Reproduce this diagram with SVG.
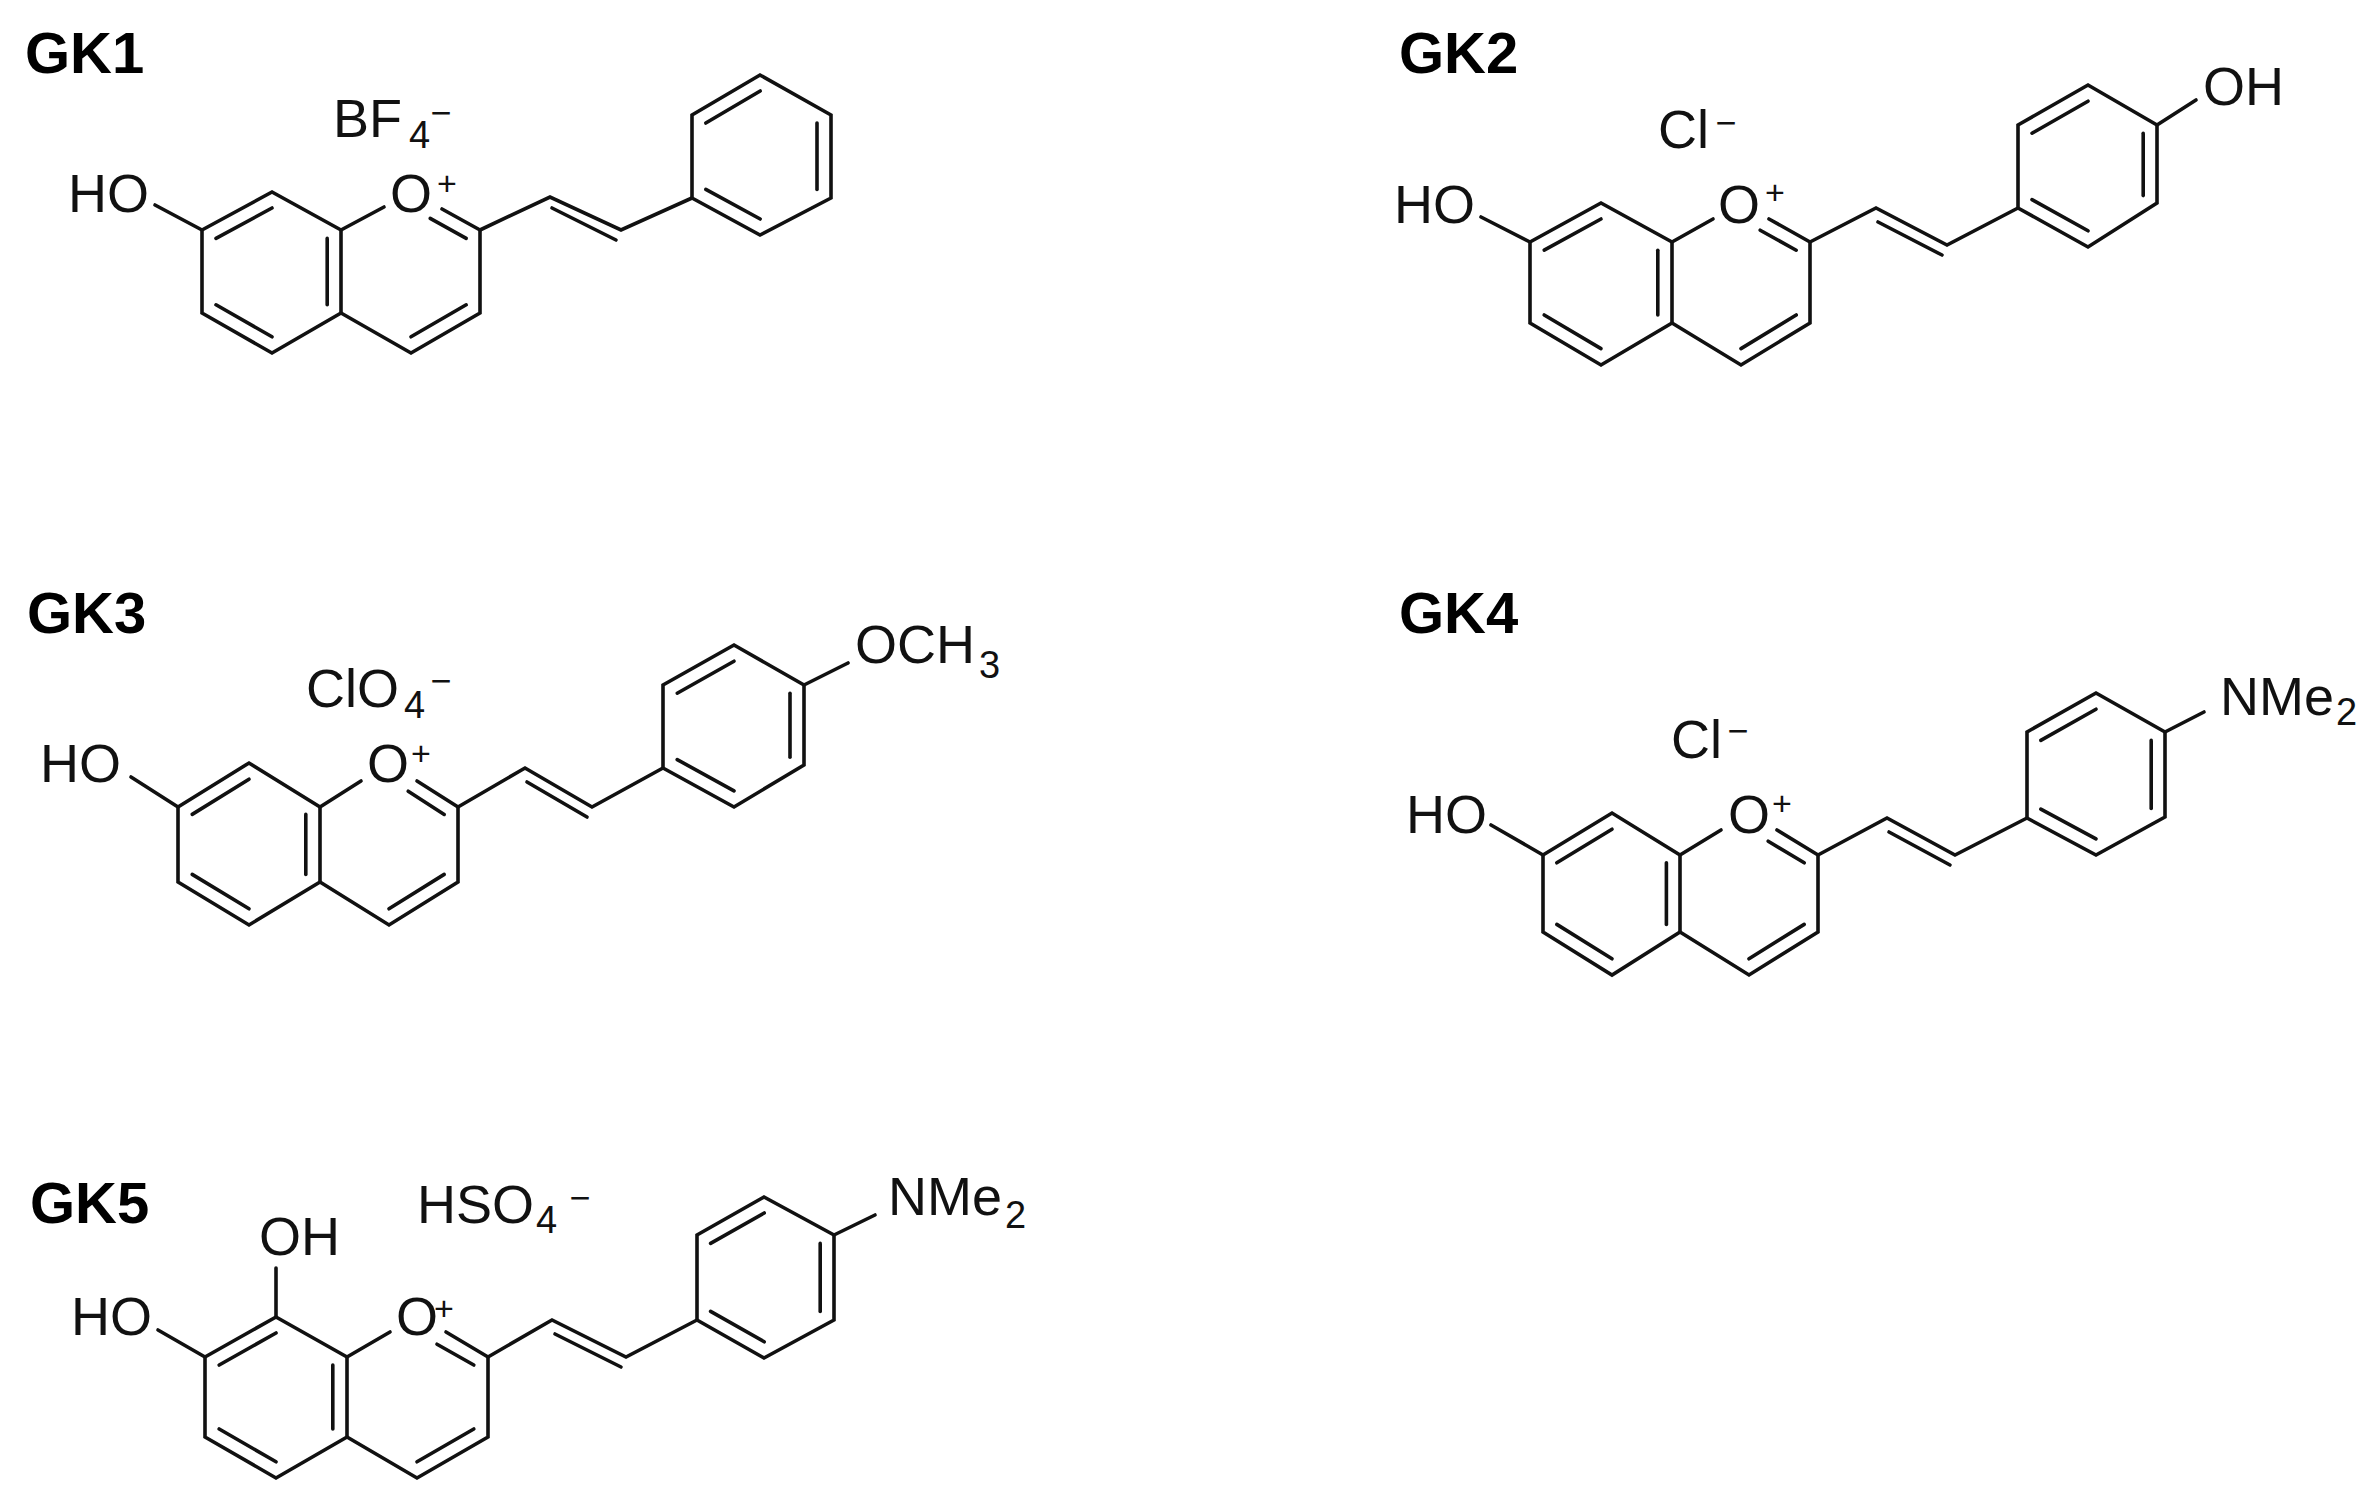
<svg xmlns="http://www.w3.org/2000/svg" width="2371" height="1502" viewBox="0 0 2371 1502">
<style>
.b{fill:none;stroke:#111;stroke-width:3.6;stroke-linejoin:miter;stroke-linecap:round}
.in line{vector-effect:non-scaling-stroke}
.t{font-family:"Liberation Sans",Arial,sans-serif;font-size:54px;fill:#111}
.s{font-family:"Liberation Sans",Arial,sans-serif;font-size:38px;fill:#111}
.c{font-family:"Liberation Sans",Arial,sans-serif;font-size:36px;fill:#111;text-anchor:middle}
.p{font-family:"Liberation Sans",Arial,sans-serif;font-size:34px;fill:#111;text-anchor:middle}
.h{font-family:"Liberation Sans",Arial,sans-serif;font-size:58px;font-weight:bold;fill:#000}
</style>
<rect width="2371" height="1502" fill="#fff"/>

<g id="GK1">
<text class="h" x="25" y="73">GK1</text>
<text class="t" x="333" y="137">BF</text><text class="s" x="409" y="148">4</text><text class="c" x="441" y="125">−</text>
<text class="t" x="68" y="212">HO</text>
<text class="t" x="390" y="212">O</text><text class="p" x="447" y="195">+</text>
<g class="b">
<line x1="155" y1="205" x2="202" y2="230"/>
<polygon points="202,230 272,192 341,230 341,313 272,353 202,313"/>
<line x1="341" y1="230" x2="384" y2="207"/>
<polyline points="442,209 480,230 480,313 411,353 341,313"/>
<polyline points="480,230 550,197 621,230 692,198"/>
<line x1="552" y1="208" x2="616" y2="240"/>
<polygon points="692,198 692,115 760,75 831,115 831,198 760,235"/>
<g class="in" transform="translate(272 272) scale(0.8) translate(-272 -272)"><line x1="202" y1="230" x2="272" y2="192"/><line x1="341" y1="230" x2="341" y2="313"/><line x1="272" y1="353" x2="202" y2="313"/></g>
<g class="in" transform="translate(411 272) scale(0.8) translate(-411 -272)"><line x1="480" y1="313" x2="411" y2="353"/><line x1="435" y1="205" x2="480" y2="230"/></g>
<g class="in" transform="translate(761 155) scale(0.8) translate(-761 -155)"><line x1="692" y1="115" x2="760" y2="75"/><line x1="831" y1="115" x2="831" y2="198"/><line x1="760" y1="235" x2="692" y2="198"/></g>
</g>
</g>

<g id="GK2">
<text class="h" x="1399" y="73">GK2</text>
<text class="t" x="1658" y="148">Cl</text><text class="c" x="1726" y="135">−</text>
<text class="t" x="1394" y="223">HO</text>
<text class="t" x="1718" y="223">O</text><text class="p" x="1775" y="204">+</text>
<text class="t" x="2203" y="105">OH</text>
<g class="b">
<line x1="1481" y1="217" x2="1530" y2="242"/>
<polygon points="1530,242 1601,203 1672,242 1672,323 1601,365 1530,323"/>
<line x1="1672" y1="242" x2="1713" y2="219"/>
<polyline points="1769,219 1810,242 1810,323 1741,365 1672,323"/>
<polyline points="1810,242 1876,208 1947,245 2018,208"/>
<line x1="1878" y1="222" x2="1942" y2="255"/>
<polygon points="2018,208 2018,125 2088,85 2157,125 2157,203 2088,247"/>
<line x1="2157" y1="125" x2="2196" y2="100"/>
<g class="in" transform="translate(1601 283) scale(0.8) translate(-1601 -283)"><line x1="1530" y1="242" x2="1601" y2="203"/><line x1="1672" y1="242" x2="1672" y2="323"/><line x1="1601" y1="365" x2="1530" y2="323"/></g>
<g class="in" transform="translate(1741 283) scale(0.8) translate(-1741 -283)"><line x1="1810" y1="323" x2="1741" y2="365"/><line x1="1765" y1="217" x2="1810" y2="242"/></g>
<g class="in" transform="translate(2088 166) scale(0.8) translate(-2088 -166)"><line x1="2018" y1="125" x2="2088" y2="85"/><line x1="2157" y1="125" x2="2157" y2="203"/><line x1="2088" y1="247" x2="2018" y2="208"/></g>
</g>
</g>

<g id="GK3">
<text class="h" x="27" y="633">GK3</text>
<text class="t" x="306" y="707">ClO</text><text class="s" x="404" y="718">4</text><text class="c" x="441" y="693">−</text>
<text class="t" x="40" y="782">HO</text>
<text class="t" x="367" y="782">O</text><text class="p" x="421" y="765">+</text>
<text class="t" x="855" y="663">OCH</text><text class="s" x="979" y="678">3</text>
<g class="b">
<line x1="131" y1="777" x2="178" y2="807"/>
<polygon points="178,807 249,763 320,807 320,882 249,925 178,882"/>
<line x1="320" y1="807" x2="361" y2="781"/>
<polyline points="417,781 458,807 458,882 389,925 320,882"/>
<polyline points="458,807 525,768 592,807 663,768"/>
<line x1="527" y1="782" x2="587" y2="817"/>
<polygon points="663,768 663,685 734,645 804,685 804,765 734,807"/>
<line x1="804" y1="685" x2="848" y2="663"/>
<g class="in" transform="translate(249 844) scale(0.8) translate(-249 -844)"><line x1="178" y1="807" x2="249" y2="763"/><line x1="320" y1="807" x2="320" y2="882"/><line x1="249" y1="925" x2="178" y2="882"/></g>
<g class="in" transform="translate(389 844) scale(0.8) translate(-389 -844)"><line x1="458" y1="882" x2="389" y2="925"/><line x1="413" y1="778" x2="458" y2="807"/></g>
<g class="in" transform="translate(734 726) scale(0.8) translate(-734 -726)"><line x1="663" y1="685" x2="734" y2="645"/><line x1="804" y1="685" x2="804" y2="765"/><line x1="734" y1="807" x2="663" y2="768"/></g>
</g>
</g>

<g id="GK4">
<text class="h" x="1399" y="633">GK4</text>
<text class="t" x="1671" y="758">Cl</text><text class="c" x="1738" y="743">−</text>
<text class="t" x="1406" y="833">HO</text>
<text class="t" x="1728" y="833">O</text><text class="p" x="1782" y="815">+</text>
<text class="t" x="2220" y="715">NMe</text><text class="s" x="2336" y="725">2</text>
<g class="b">
<line x1="1491" y1="825" x2="1543" y2="855"/>
<polygon points="1543,855 1612,813 1680,855 1680,932 1612,975 1543,932"/>
<line x1="1680" y1="855" x2="1721" y2="830"/>
<polyline points="1777,830 1818,855 1818,932 1749,975 1680,932"/>
<polyline points="1818,855 1887,818 1955,855 2027,818"/>
<line x1="1889" y1="832" x2="1950" y2="865"/>
<polygon points="2027,818 2027,732 2096,693 2165,732 2165,817 2096,855"/>
<line x1="2165" y1="732" x2="2204" y2="712"/>
<g class="in" transform="translate(1612 894) scale(0.8) translate(-1612 -894)"><line x1="1543" y1="855" x2="1612" y2="813"/><line x1="1680" y1="855" x2="1680" y2="932"/><line x1="1612" y1="975" x2="1543" y2="932"/></g>
<g class="in" transform="translate(1749 894) scale(0.8) translate(-1749 -894)"><line x1="1818" y1="932" x2="1749" y2="975"/><line x1="1773" y1="828" x2="1818" y2="855"/></g>
<g class="in" transform="translate(2096 774) scale(0.8) translate(-2096 -774)"><line x1="2027" y1="732" x2="2096" y2="693"/><line x1="2165" y1="732" x2="2165" y2="817"/><line x1="2096" y1="855" x2="2027" y2="818"/></g>
</g>
</g>

<g id="GK5">
<text class="h" x="30" y="1223">GK5</text>
<text class="t" x="417" y="1223">HSO</text><text class="s" x="536" y="1233">4</text><text class="c" x="580" y="1210">−</text>
<text class="t" x="259" y="1255">OH</text>
<text class="t" x="71" y="1335">HO</text>
<text class="t" x="396" y="1335">O</text><text class="p" x="444" y="1320">+</text>
<text class="t" x="888" y="1215">NMe</text><text class="s" x="1005" y="1228">2</text>
<g class="b">
<line x1="158" y1="1330" x2="205" y2="1357"/>
<line x1="276" y1="1317" x2="276" y2="1268"/>
<polygon points="205,1357 276,1317 347,1357 347,1437 276,1478 205,1437"/>
<line x1="347" y1="1357" x2="390" y2="1332"/>
<polyline points="446,1332 488,1357 488,1437 417,1478 347,1437"/>
<polyline points="488,1357 552,1320 626,1357 697,1320"/>
<line x1="555" y1="1334" x2="621" y2="1367"/>
<polygon points="697,1320 697,1235 764,1197 834,1235 834,1320 764,1358"/>
<line x1="834" y1="1235" x2="875" y2="1215"/>
<g class="in" transform="translate(276 1397) scale(0.8) translate(-276 -1397)"><line x1="205" y1="1357" x2="276" y2="1317"/><line x1="347" y1="1357" x2="347" y2="1437"/><line x1="276" y1="1478" x2="205" y2="1437"/></g>
<g class="in" transform="translate(417 1397) scale(0.8) translate(-417 -1397)"><line x1="488" y1="1437" x2="417" y2="1478"/><line x1="442" y1="1331" x2="488" y2="1357"/></g>
<g class="in" transform="translate(765 1277) scale(0.8) translate(-765 -1277)"><line x1="697" y1="1235" x2="764" y2="1197"/><line x1="834" y1="1235" x2="834" y2="1320"/><line x1="764" y1="1358" x2="697" y2="1320"/></g>
</g>
</g>
</svg>
